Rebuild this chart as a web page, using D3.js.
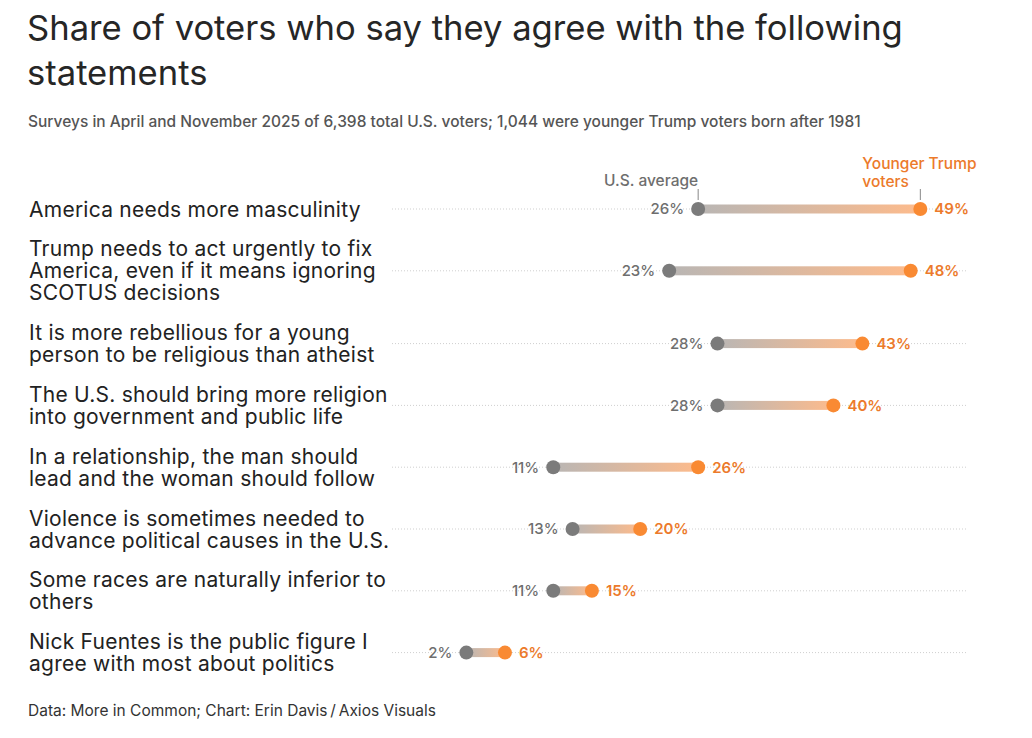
<!DOCTYPE html>
<html>
<head>
<meta charset="utf-8">
<script src="https://cdn.jsdelivr.net/npm/d3@7"></script>
<style>
  body { margin: 0; background: #fff; font-family: Inter, "Noto Sans", sans-serif; }
</style>
</head>
<body>
<div id="chart"></div>
<script>
/* dumbbell chart: U.S. average vs younger Trump voters */

const statements = [
    ["America needs more masculinity"],
    ["Trump needs to act urgently to fix", "America, even if it means ignoring", "SCOTUS decisions"],
    ["It is more rebellious for a young", "person to be religious than atheist"],
    ["The U.S. should bring more religion", "into government and public life"],
    ["In a relationship, the man should", "lead and the woman should follow"],
    ["Violence is sometimes needed to", "advance political causes in the U.S."],
    ["Some races are naturally inferior to", "others"],
    ["Nick Fuentes is the public figure I", "agree with most about politics"]
];
const usAverage = [26, 23, 28, 28, 11, 13, 11, 2];
const youngerTrump = [49, 48, 43, 40, 26, 20, 15, 6];
const seriesNames = ["U.S. average", ["Younger Trump", "voters"]];

const width = 1032,
      height = 738,
      lineH = 22,
      rowGap = 17.8,
      firstRow = 209;

const data = statements.map((s, i) => ({label: s, us: usAverage[i], young: youngerTrump[i]}));

// row centres follow the number of label lines
let yPos = firstRow;
data.forEach((d, i) => {
    if (i > 0) {
        yPos += data[i - 1].label.length * lineH / 2 + rowGap + d.label.length * lineH / 2;
    }
    d.y = yPos;
});

const svg = d3.select("#chart")
    .append("svg")
    .attr("width", width)
    .attr("height", height)
    .attr("viewBox", [0, 0, width, height]);

const x = d3.scaleLinear()
    .domain([0, 50])
    .range([447, 930]);

const gridLeft = 392, gridRight = 968;

// titles
svg.append("text")
    .attr("x", 27).attr("y", 40)
    .style("font-size", "34.6px").style("fill", "#262626")
    .text("Share of voters who say they agree with the following");
svg.append("text")
    .attr("x", 27).attr("y", 85)
    .style("font-size", "34.6px").style("fill", "#262626")
    .text("statements");
svg.append("text")
    .attr("x", 28).attr("y", 127)
    .style("font-size", "15.5px").style("fill", "#555")
    .style("font-weight", 500)
    .text("Surveys in April and November 2025 of 6,398 total U.S. voters; 1,044 were younger Trump voters born after 1981");

svg.append("text")
    .attr("x", 28).attr("y", 716)
    .style("font-size", "15.5px").style("fill", "#333")
    .text("Data: More in Common; Chart: Erin Davis\u2009/\u2009Axios Visuals");

// gradient for the connectors
const defs = svg.append("defs");
const grad = defs.append("linearGradient")
    .attr("id", "conn")
    .attr("x1", "0%").attr("x2", "100%");
grad.append("stop").attr("offset", "0%").attr("stop-color", "#b9b6b4");
grad.append("stop").attr("offset", "100%").attr("stop-color", "#fdbb8c");

const row = svg.selectAll(".row")
    .data(data)
    .join("g")
    .attr("class", "row");

row.append("line")
    .attr("x1", gridLeft).attr("x2", gridRight)
    .attr("y1", d => d.y).attr("y2", d => d.y)
    .attr("stroke", "#cfcfcf")
    .attr("stroke-width", 1)
    .attr("stroke-dasharray", "1,2");

row.append("text")
    .attr("x", 29)
    .attr("y", d => d.y - (d.label.length - 1) * lineH / 2)
    .style("font-size", "21px")
    .style("letter-spacing", "0.25px")
    .style("fill", "#222")
    .selectAll("tspan")
    .data(d => d.label)
    .join("tspan")
    .attr("x", 29)
    .attr("dy", (t, i) => i === 0 ? "0.36em" : lineH)
    .text(t => t);

row.append("rect")
    .attr("x", d => x(d.us))
    .attr("width", d => x(d.young) - x(d.us))
    .attr("y", d => d.y - 4.5)
    .attr("height", 9)
    .attr("fill", "url(#conn)");

row.append("circle")
    .attr("cx", d => x(d.us))
    .attr("cy", d => d.y)
    .attr("r", 7)
    .attr("fill", "#7b7b7b");

row.append("circle")
    .attr("cx", d => x(d.young))
    .attr("cy", d => d.y)
    .attr("r", 7)
    .attr("fill", "#f98a33");

row.append("text")
    .attr("x", d => x(d.us) - 14)
    .attr("y", d => d.y)
    .attr("dy", "0.36em")
    .attr("text-anchor", "end")
    .style("font-size", "15px")
    .style("font-weight", 500)
    .style("fill", "#6e6e6e")
    .text(d => d.us + "%");

row.append("text")
    .attr("x", d => x(d.young) + 14)
    .attr("y", d => d.y)
    .attr("dy", "0.36em")
    .style("font-size", "15px")
    .style("font-weight", 600)
    .style("fill", "#ec7a2b")
    .text(d => d.young + "%");

// series annotations on the first row
const first = data[0];
svg.append("line")
    .attr("x1", x(first.us)).attr("x2", x(first.us))
    .attr("y1", first.y - 20).attr("y2", first.y - 9)
    .attr("stroke", "#888");
svg.append("text")
    .attr("x", x(first.us))
    .attr("y", first.y - 23)
    .attr("text-anchor", "end")
    .style("font-size", "15.5px")
    .style("font-weight", 500)
    .style("fill", "#6e6e6e")
    .text(seriesNames[0]);

svg.append("line")
    .attr("x1", x(first.young)).attr("x2", x(first.young))
    .attr("y1", first.y - 20).attr("y2", first.y - 9)
    .attr("stroke", "#888");
svg.append("text")
    .attr("x", x(first.young) - 58)
    .attr("y", first.y - 40)
    .style("font-size", "15.5px")
    .style("font-weight", 500)
    .style("fill", "#ec7a2b")
    .selectAll("tspan")
    .data(seriesNames[1])
    .join("tspan")
    .attr("x", x(first.young) - 58)
    .attr("dy", (t, i) => i === 0 ? 0 : 18)
    .text(t => t);
</script>
</body>
</html>
